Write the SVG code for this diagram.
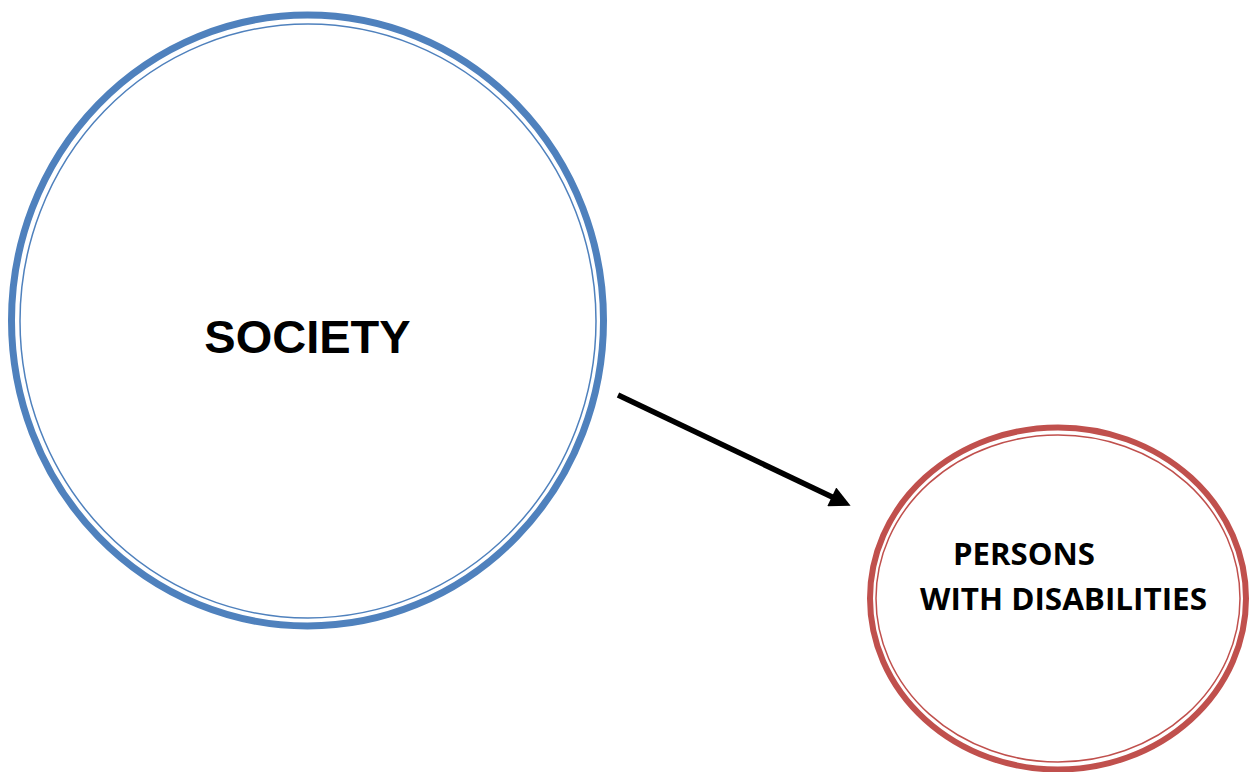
<svg xmlns="http://www.w3.org/2000/svg" width="1249" height="772" viewBox="0 0 1249 772">
<style>
.blue{fill:none;stroke:#4F81BD}
.red{fill:none;stroke:#C0504D}
.t1{font-family:"Liberation Sans",Arial,sans-serif;font-weight:bold;fill:#000}
.t2{font-family:"Open Sans","Liberation Sans",sans-serif;font-weight:bold;fill:#000}
</style>
<defs>
<marker id="ah" viewBox="0 0 10 10" refX="0.5" refY="5" markerWidth="4.2" markerHeight="3.8" markerUnits="strokeWidth" orient="auto">
<path d="M0,0 L10,5 L0,10 Z" fill="#000"/>
</marker>
</defs>
<g id="society">
<ellipse class="blue" cx="307.5" cy="320.5" rx="296" ry="305.5" stroke-width="7"/>
<ellipse class="blue" cx="308" cy="321" rx="288" ry="297" stroke-width="1.5"/>
<text class="t1" x="307.5" y="353" font-size="47" text-anchor="middle">SOCIETY</text>
</g>
<g id="persons">
<ellipse class="red" cx="1058" cy="598.5" rx="188" ry="171" stroke-width="6"/>
<ellipse class="red" cx="1058" cy="598.5" rx="182" ry="163.5" stroke-width="1.5"/>
<text class="t2" x="953" y="565" font-size="30" textLength="142" lengthAdjust="spacingAndGlyphs">PERSONS</text>
<text class="t2" x="920" y="610" font-size="30" textLength="287" lengthAdjust="spacingAndGlyphs">WITH DISABILITIES</text>
</g>
<g id="connectors">
<line x1="618" y1="395" x2="832.7" y2="497.3" stroke="#000" stroke-width="5.5" marker-end="url(#ah)"/>
</g>
</svg>
